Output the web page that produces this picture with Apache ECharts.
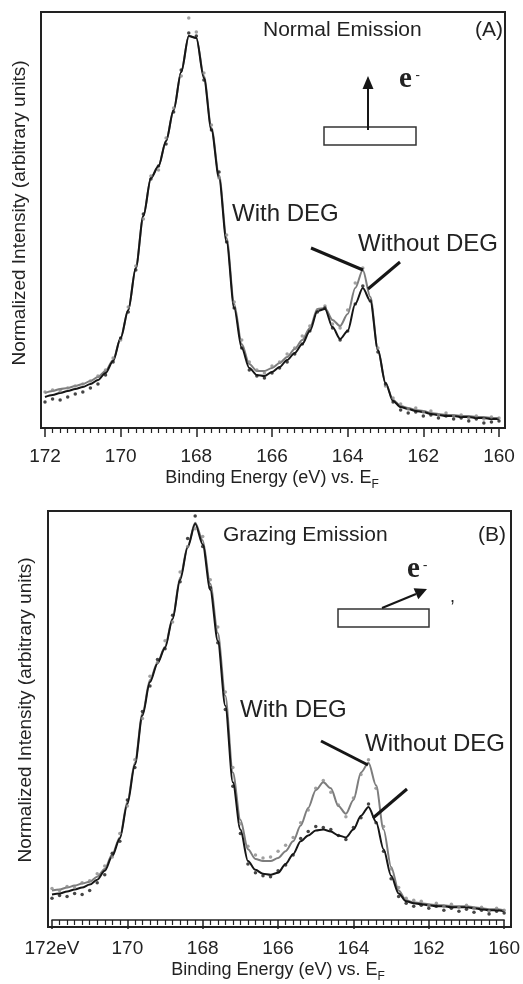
<!DOCTYPE html>
<html><head><meta charset="utf-8">
<script src="https://cdn.jsdelivr.net/npm/echarts@6/dist/echarts.min.js"></script>
<style>html,body{margin:0;padding:0;background:#fff}#c{width:523px;height:984px}</style>
</head><body><div id="c"></div>
<script>
// Binding energy grid (eV)
const energy = [172.0,171.8,171.6,171.4,171.2,171.0,170.8,170.6,170.4,170.2,170.0,169.8,169.6,169.4,169.2,169.0,168.8,168.6,168.4,168.2,168.0,167.8,167.6,167.4,167.2,167.0,166.8,166.6,166.4,166.2,166.0,165.8,165.6,165.4,165.2,165.0,164.8,164.6,164.4,164.2,164.0,163.8,163.6,163.4,163.2,163.0,162.8,162.6,162.4,162.2,162.0,161.8,161.6,161.4,161.2,161.0,160.8,160.6,160.4,160.2,160.0];

// Panel A (Normal Emission)
const fitA_with = [35,37,39,40,42,44,47,51,57,68, 90,118,160,212,250,262,287,318,356,392, 390,352,300,253,190,124,84,64,57,57, 60,65,71,79,88,100,119,120,108,102, 114,140,158,131,78,45,28,22,20,18, 17,15,14,13,13,12,12,11,11,10,10];
const fitA_without = [31,33,35,37,39,41,44,48,55,67, 90,118,160,212,250,262,287,318,356,392, 390,350,298,250,186,120,80,60,53,52, 56,61,68,75,84,97,117,119,101,89, 97,124,140,127,78,45,27,21,19,17, 16,14,13,12,12,11,11,10,10,9,9];
const dotsA_with = [36,38,37,40,42,44,47,52,58,70, 88,121,162,209,252,258,290,320,352,410, 396,355,303,250,193,126,88,66,58,55, 62,66,74,80,92,102,118,122,104,100, 118,145,160,128,80,42,30,24,19,20, 16,17,13,15,12,13,10,12,9,11,10];
const dotsA_without = [26,29,28,31,34,36,40,44,53,66, 90,116,158,214,249,262,284,316,358,395, 392,348,298,256,186,120,80,58,52,50, 55,60,66,74,84,97,116,120,100,88, 97,124,142,127,76,44,26,18,15,16, 12,13,10,12,9,10,7,9,5,6,7];

// Panel B (Grazing Emission)
const fitB_with = [30,31,33,35,37,39,44,52,67,84, 120,160,210,244,262,278,307,348,380,404, 386,342,292,228,150,102,72,62,60,60, 63,70,80,96,114,132,140,134,116,108, 122,150,160,137,92,54,30,20,18,17, 16,15,15,14,14,14,13,12,11,11,10];
const fitB_without = [26,27,29,31,33,36,41,50,65,83, 118,158,208,242,261,277,306,346,379,403, 382,336,284,218,140,92,60,51,47,46, 48,57,67,80,86,91,92,90,86,84, 92,106,115,100,72,45,27,19,17,16, 15,14,14,13,13,13,12,11,10,10,9];
const dotsB_with = [32,30,34,33,38,40,47,55,64,88, 116,163,205,248,262,284,303,354,380,398, 390,346,298,232,155,98,75,66,63,64, 70,76,84,99,112,134,142,130,117,105, 124,148,163,134,95,52,33,22,20,19, 15,17,14,16,13,15,12,13,9,12,10];
const dotsB_without = [22,25,24,27,26,30,38,46,68,80, 122,155,212,238,265,276,310,344,388,411, 380,338,282,214,136,88,57,48,45,44, 50,56,66,83,90,95,94,92,86,82, 94,104,118,99,70,42,24,17,14,15, 12,14,10,12,9,11,8,10,6,9,7];

// Axis tick labels
const tickValues = [172,170,168,166,164,162,160];
const tickLabelsA = ['172','170','168','166','164','162','160'];
const tickLabelsB = ['172eV','170','168','166','164','162','160'];
const xTitle = 'Binding Energy (eV) vs. E';
const xTitleSub = 'F';
const yTitle = 'Normalized Intensity (arbitrary units)';

const FONT = '"Liberation Sans", Arial, sans-serif';
const SERIF = '"Liberation Serif", "Times New Roman", serif';
const INK = '#222';
const GRAY = '#7d7d7d';
const BLACK = '#161616';

const pair = arr => energy.map((e, i) => [e, arr[i]]);

function makeX(grid, labels) {
  return {
    type: 'value', gridIndex: grid, min: 160, max: 172, interval: 2, inverse: true, offset: 3,
    axisLine: { show: true, lineStyle: { color: INK, width: 1.5 } },
    axisTick: { show: true, inside: false, length: 9, lineStyle: { color: INK, width: 1.5 } },
    minorTick: { show: true, splitNumber: 10, length: 5, lineStyle: { color: INK, width: 1.2 } },
    splitLine: { show: false }, minorSplitLine: { show: false },
    axisLabel: {
      margin: 16, fontFamily: FONT, fontSize: 19, color: INK,
      formatter: v => { const i = tickValues.indexOf(Math.round(v)); return i >= 0 ? labels[i] : ''; }
    },
    name: xTitle + '{sub|' + xTitleSub + '}', nameLocation: 'middle', nameGap: 34,
    nameTextStyle: {
      fontFamily: FONT, fontSize: 18, color: INK,
      rich: { sub: { fontFamily: FONT, fontSize: 12, color: INK, verticalAlign: 'bottom', lineHeight: 26 } }
    }
  };
}
function makeY(grid) {
  return { type: 'value', gridIndex: grid, min: 0, max: 416, show: false, splitLine: { show: false } };
}
function fit(grid, arr, color, z) {
  return { type: 'line', xAxisIndex: grid, yAxisIndex: grid, data: pair(arr), showSymbol: false,
    smooth: 0.3, smoothMonotone: 'x', lineStyle: { color: color, width: 2 }, z: z, silent: true };
}
function dots(grid, arr, color, z) {
  return { type: 'scatter', xAxisIndex: grid, yAxisIndex: grid, data: pair(arr), symbol: 'circle',
    symbolSize: 3.5, itemStyle: { color: color }, z: z, silent: true };
}
function txt(x, y, text, size, extra, rot) {
  return { type: 'text', x: x, y: y, z: 100, rotation: rot || 0,
    style: Object.assign({ text: text, fontSize: size, fontFamily: FONT, fill: INK, verticalAlign: 'middle' }, extra || {}) };
}
function seg(x1, y1, x2, y2, w) {
  return { type: 'line', z: 100, shape: { x1, y1, x2, y2 }, style: { stroke: BLACK, lineWidth: w } };
}

const chart = echarts.init(document.getElementById('c'), null, { renderer: 'canvas' });
chart.setOption({
  animation: false,
  backgroundColor: '#fff',
  grid: [
    { left: 45, top: 12, width: 454, height: 416 },
    { left: 52, top: 511, width: 455, height: 416 }
  ],
  xAxis: [makeX(0, tickLabelsA), makeX(1, tickLabelsB)],
  yAxis: [makeY(0), makeY(1)],
  series: [
    fit(0, fitA_with, GRAY, 2), fit(0, fitA_without, BLACK, 3),
    dots(0, dotsA_with, '#8a8a8a', 4), dots(0, dotsA_without, BLACK, 5),
    fit(1, fitB_with, GRAY, 2), fit(1, fitB_without, BLACK, 3),
    dots(1, dotsB_with, '#8a8a8a', 4), dots(1, dotsB_without, BLACK, 5)
  ],
  graphic: [
    // plot frames
    { type: 'rect', z: 90, shape: { x: 41, y: 12, width: 464, height: 416 }, style: { fill: 'none', stroke: INK, lineWidth: 2 } },
    { type: 'rect', z: 90, shape: { x: 48, y: 511, width: 463, height: 416 }, style: { fill: 'none', stroke: INK, lineWidth: 2 } },
    // y titles
    txt(20, 213, yTitle, 19, { align: 'center' }, Math.PI / 2),
    txt(25.5, 710, yTitle, 19, { align: 'center' }, Math.PI / 2),
    // Panel A annotations
    txt(263, 30, 'Normal Emission', 21),
    txt(475, 30, '(A)', 21),
    txt(232, 214, 'With DEG', 24),
    txt(358, 244, 'Without DEG', 24),
    seg(311, 248, 363, 270, 3),
    seg(400, 262, 368, 289, 3),
    { type: 'rect', z: 100, shape: { x: 324, y: 127, width: 92, height: 18 }, style: { fill: '#fff', stroke: '#333', lineWidth: 1.5 } },
    seg(368, 130, 368, 87, 2),
    { type: 'polygon', z: 100, shape: { points: [[368, 76], [362.5, 89], [373.5, 89]] }, style: { fill: BLACK } },
    txt(399, 80, 'e', 29, { fontFamily: SERIF, fontWeight: 'bold' }),
    txt(415.5, 76, '-', 13, { fontFamily: SERIF, fontWeight: 'bold' }),
    // Panel B annotations
    txt(223, 535, 'Grazing Emission', 21),
    txt(478, 535, '(B)', 21),
    txt(240, 710, 'With DEG', 24),
    txt(365, 744, 'Without DEG', 24),
    seg(321, 741, 368, 765, 3),
    seg(407, 789, 373, 818, 3),
    { type: 'rect', z: 100, shape: { x: 338, y: 609, width: 91, height: 18 }, style: { fill: '#fff', stroke: '#333', lineWidth: 1.5 } },
    seg(382, 608, 416, 594, 2),
    { type: 'polygon', z: 100, shape: { points: [[427, 589], [418.3, 599.2], [413.6, 588.2]] }, style: { fill: BLACK } },
    txt(407, 570, 'e', 29, { fontFamily: SERIF, fontWeight: 'bold' }),
    txt(423, 566, '-', 13, { fontFamily: SERIF, fontWeight: 'bold' }),
    txt(450, 597, ',', 18)
  ]
});
</script>
</body></html>
